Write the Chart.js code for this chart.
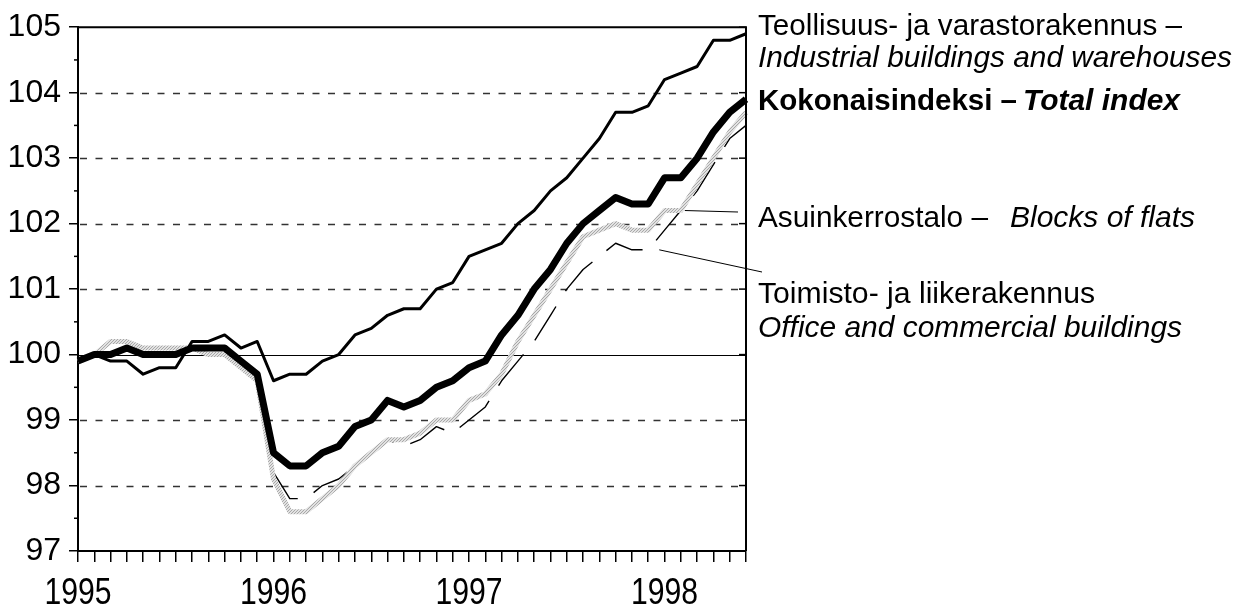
<!DOCTYPE html>
<html>
<head>
<meta charset="utf-8">
<script src="https://cdn.jsdelivr.net/npm/chart.js@4/dist/chart.umd.min.js"></script>
<style>
  html, body { margin: 0; padding: 0; background: #fff; }
  canvas { display: block; }
</style>
</head>
<body>
<canvas id="indexChart" width="1240" height="608"></canvas>
<script>
// monthly points, Jan 1995 - Jun 1998
const months = [
  '1995-01','1995-02','1995-03','1995-04','1995-05','1995-06','1995-07','1995-08','1995-09','1995-10','1995-11','1995-12',
  '1996-01','1996-02','1996-03','1996-04','1996-05','1996-06','1996-07','1996-08','1996-09','1996-10','1996-11','1996-12',
  '1997-01','1997-02','1997-03','1997-04','1997-05','1997-06','1997-07','1997-08','1997-09','1997-10','1997-11','1997-12',
  '1998-01','1998-02','1998-03','1998-04','1998-05','1998-06'
];
const yearLabels = ['1995', '1996', '1997', '1998'];

const industrial = [
  99.9, 100.0, 99.9, 99.9, 99.7, 99.8, 99.8, 100.2, 100.2, 100.3, 100.1, 100.2,
  99.6, 99.7, 99.7, 99.9, 100.0, 100.3, 100.4, 100.6, 100.7, 100.7, 101.0, 101.1,
  101.5, 101.6, 101.7, 102.0, 102.2, 102.5, 102.7, 103.0, 103.3, 103.7, 103.7, 103.8,
  104.2, 104.3, 104.4, 104.8, 104.8, 104.9
];
const total = [
  99.9, 100.0, 100.0, 100.1, 100.0, 100.0, 100.0, 100.1, 100.1, 100.1, 99.9, 99.7,
  98.5, 98.3, 98.3, 98.5, 98.6, 98.9, 99.0, 99.3, 99.2, 99.3, 99.5, 99.6,
  99.8, 99.9, 100.3, 100.6, 101.0, 101.3, 101.7, 102.0, 102.2, 102.4, 102.3, 102.3,
  102.7, 102.7, 103.0, 103.4, 103.7, 103.9
];
const flats = [
  99.9, 100.0, 100.2, 100.2, 100.1, 100.1, 100.1, 100.1, 100.0, 100.0, 99.8, 99.6,
  98.1, 97.6, 97.6, 97.8, 98.0, 98.3, 98.5, 98.7, 98.7, 98.8, 99.0, 99.0,
  99.3, 99.4, 99.7, 100.2, 100.6, 101.0, 101.4, 101.8, 101.9, 102.0, 101.9, 101.9,
  102.2, 102.2, 102.6, 103.0, 103.4, 103.7
];
const office = [
  99.9, 100.0, 100.0, 100.1, 100.0, 100.0, 100.0, 100.1, 100.1, 100.1, 99.9, 99.6,
  98.2, 97.8, 97.8, 98.0, 98.1, 98.3, 98.5, 98.7, 98.6, 98.7, 98.9, 98.8,
  99.0, 99.2, 99.6, 99.9, 100.2, 100.6, 101.0, 101.3, 101.5, 101.7, 101.6, 101.6,
  101.9, 102.2, 102.5, 102.9, 103.3, 103.5
];

const SANS = '"Liberation Sans", Arial, sans-serif';

// speckled light grey for the blocks-of-flats line
function greyPattern() {
  const c = document.createElement('canvas');
  c.width = 3; c.height = 3;
  const g = c.getContext('2d');
  g.fillStyle = '#e2e2e2';
  g.fillRect(0, 0, 3, 3);
  g.fillStyle = '#a8a8a8';
  g.fillRect(0, 0, 1, 1);
  g.fillRect(2, 1, 1, 1);
  g.fillRect(1, 2, 1, 1);
  return g.createPattern(c, 'repeat');
}

// the original uses a condensed face: squeeze text to the width it has there
function fitText(ctx, text, x, y, width) {
  const w = ctx.measureText(text).width;
  ctx.save();
  ctx.translate(x, y);
  ctx.scale(width / w, 1);
  ctx.fillText(text, 0, 0);
  ctx.restore();
}

const framePlugin = {
  id: 'frame',
  beforeDatasetsDraw(chart) {
    const { ctx, chartArea: a, scales: { y } } = chart;
    ctx.save();
    y.ticks.forEach(t => {
      const py = Math.round(y.getPixelForValue(t.value)) + 0.5;
      if (t.value === 100) {
        ctx.setLineDash([]);
        ctx.strokeStyle = '#000';
        ctx.lineWidth = 1;
        ctx.beginPath(); ctx.moveTo(a.left, py); ctx.lineTo(a.right, py); ctx.stroke();
      } else if (t.value > y.min && t.value < y.max) {
        ctx.setLineDash([7, 8.5]);
        ctx.strokeStyle = '#333';
        ctx.lineWidth = 1.3;
        ctx.beginPath(); ctx.moveTo(a.left + 2, py); ctx.lineTo(a.right, py); ctx.stroke();
      }
    });
    ctx.restore();
  },
  afterDatasetsDraw(chart) {
    const { ctx, chartArea: a, scales: { y } } = chart;
    ctx.save();
    ctx.strokeStyle = '#000';
    ctx.lineWidth = 1.5;
    y.ticks.forEach(t => {
      const py = y.getPixelForValue(t.value);
      ctx.beginPath(); ctx.moveTo(a.right - 7, py); ctx.lineTo(a.right, py); ctx.stroke();
      if (t.value < y.max) {
        const ph = y.getPixelForValue(t.value + 0.5);
        ctx.beginPath(); ctx.moveTo(a.left - 4, ph); ctx.lineTo(a.left, ph); ctx.stroke();
      }
    });
    ctx.lineWidth = 2;
    ctx.beginPath();
    ctx.moveTo(a.left, a.top); ctx.lineTo(a.right, a.top); ctx.lineTo(a.right, a.bottom);
    ctx.stroke();
    ctx.restore();
  },
  afterDraw(chart) {
    const { ctx, scales: { x, y } } = chart;
    ctx.save();
    ctx.fillStyle = '#000';
    ctx.textBaseline = 'alphabetic';

    // year labels under the January ticks
    ctx.font = '36px ' + SANS;
    months.forEach((m, i) => {
      const yr = m.slice(0, 4);
      if (m.endsWith('-01') && yearLabels.includes(yr)) {
        fitText(ctx, yr, x.getPixelForValue(i) - 33.5, 604, 67);
      }
    });

    // leader lines to the labels
    ctx.strokeStyle = '#000';
    ctx.lineWidth = 1;
    ctx.beginPath();
    ctx.moveTo(x.getPixelForValue(37) + 4, y.getPixelForValue(flats[37]));
    ctx.lineTo(738, 212);
    ctx.moveTo(x.getPixelForValue(35) + 11, y.getPixelForValue(office[35]));
    ctx.lineTo(762, 272);
    ctx.stroke();

    ctx.font = '30px ' + SANS;
    fitText(ctx, 'Teollisuus- ja varastorakennus \u2013', 758, 35, 424);
    ctx.font = 'italic 30px ' + SANS;
    fitText(ctx, 'Industrial buildings and warehouses', 758, 67, 474);

    ctx.font = 'bold 30px ' + SANS;
    fitText(ctx, 'Kokonaisindeksi \u2013', 758, 110, 259);
    ctx.font = 'italic bold 30px ' + SANS;
    fitText(ctx, 'Total index', 1023, 110, 157);

    ctx.font = '30px ' + SANS;
    fitText(ctx, 'Asuinkerrostalo \u2013', 758, 227, 230);
    ctx.font = 'italic 30px ' + SANS;
    fitText(ctx, 'Blocks of flats', 1010, 227, 185);

    ctx.font = '30px ' + SANS;
    fitText(ctx, 'Toimisto- ja liikerakennus', 758, 303, 337);
    ctx.font = 'italic 30px ' + SANS;
    fitText(ctx, 'Office and commercial buildings', 758, 337, 424);
    ctx.restore();
  }
};

const ctx = document.getElementById('indexChart').getContext('2d');
new Chart(ctx, {
  type: 'line',
  data: {
    labels: months,
    datasets: [
      { label: 'Teollisuus- ja varastorakennus', data: industrial, borderColor: '#000', borderWidth: 3 },
      { label: 'Kokonaisindeksi', data: total, borderColor: '#000', borderWidth: 7 },
      { label: 'Asuinkerrostalo', data: flats, borderColor: greyPattern(), borderWidth: 5 },
      { label: 'Toimisto- ja liikerakennus', data: office, borderColor: '#000', borderWidth: 1.4, borderDash: [40, 18] }
    ]
  },
  options: {
    responsive: false,
    animation: false,
    layout: { padding: { top: 24, right: 494, left: 0, bottom: 0 } },
    elements: {
      point: { radius: 0, hoverRadius: 0 },
      line: { tension: 0, borderJoinStyle: 'round', borderCapStyle: 'butt', fill: false }
    },
    plugins: {
      legend: { display: false },
      tooltip: { enabled: false }
    },
    scales: {
      x: {
        type: 'category',
        offset: false,
        grid: { drawOnChartArea: false, drawTicks: true, tickLength: 11, color: '#000', lineWidth: 1.5, offset: false },
        border: { color: '#000', width: 2 },
        ticks: {
          autoSkip: false,
          maxRotation: 0,
          font: { size: 10 },
          callback: () => ''
        },
        afterFit: s => { s.height = 57; }
      },
      y: {
        min: 97,
        max: 105,
        grid: { drawOnChartArea: false, drawTicks: true, tickLength: 9, color: '#000', lineWidth: 1.5 },
        border: { color: '#000', width: 2 },
        ticks: {
          stepSize: 1,
          padding: 8,
          color: '#000',
          font: { family: SANS, size: 32 }
        },
        afterFit: s => { s.width = 78; }
      }
    }
  },
  plugins: [framePlugin]
});
</script>
</body>
</html>
